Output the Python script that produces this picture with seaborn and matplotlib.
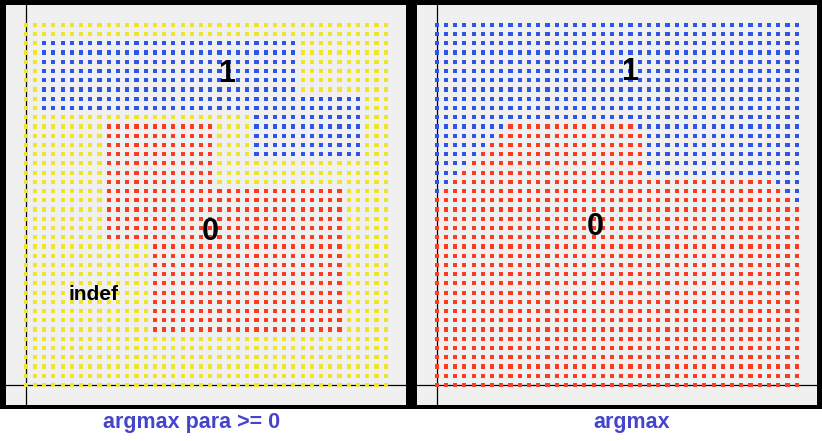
import pandas as pd
import seaborn as sns
import matplotlib.pyplot as plt
from matplotlib.patches import Rectangle

# Grelha 40 x 40 de pontos; cada linha descrita de cima para baixo como
# (numero de linhas repetidas, [(classe, quantidade de colunas), ...])
# classes: "0", "1" e "indef"
linhas_esq = [
    (2, [("indef", 40)]),
    (6, [("indef", 2), ("1", 28), ("indef", 10)]),
    (2, [("indef", 2), ("1", 35), ("indef", 3)]),
    (1, [("indef", 25), ("1", 12), ("indef", 3)]),
    (4, [("indef", 9), ("0", 12), ("indef", 4), ("1", 12), ("indef", 3)]),
    (3, [("indef", 9), ("0", 12), ("indef", 19)]),
    (6, [("indef", 9), ("0", 26), ("indef", 5)]),
    (10, [("indef", 14), ("0", 21), ("indef", 5)]),
    (6, [("indef", 40)]),
]

linhas_dir = [
    (11, [("1", 40)]),
    (1, [("1", 8), ("0", 14), ("1", 18)]),
    (1, [("1", 7), ("0", 16), ("1", 17)]),
    (1, [("1", 6), ("0", 17), ("1", 17)]),
    (1, [("1", 5), ("0", 18), ("1", 17)]),
    (1, [("1", 4), ("0", 19), ("1", 17)]),
    (1, [("1", 3), ("0", 20), ("1", 17)]),
    (1, [("1", 2), ("0", 35), ("1", 3)]),
    (1, [("1", 1), ("0", 37), ("1", 2)]),
    (1, [("0", 39), ("1", 1)]),
    (20, [("0", 40)]),
]

titulos = ["argmax para >= 0", "argmax"]

# rotulos das regioes: (texto, x, y, tamanho)
rotulos_esq = [("1", 21.8, 32.8, 22), ("0", 20.0, 15.7, 22), ("indef", 7.3, 9.2, 15)]
rotulos_dir = [("1", 20.9, 33.0, 22), ("0", 17.2, 16.2, 22)]

cores = {"0": "#ff3a22", "1": "#2f55e8", "indef": "#efe62c"}


def monta_df(linhas):
    registros = []
    linha = 0
    for repete, trechos in linhas:
        for _ in range(repete):
            col = 0
            for classe, qtd in trechos:
                for _ in range(qtd):
                    registros.append({"x": col, "y": 39 - linha, "classe": classe})
                    col += 1
            linha += 1
    return pd.DataFrame(registros)


df_esq = monta_df(linhas_esq)
df_dir = monta_df(linhas_dir)

plt.rcParams['font.family'] = ['Liberation Sans', 'DejaVu Sans']

fig = plt.figure(figsize=(8.22, 4.41), dpi=100, facecolor='white')
# moldura preta atras dos paineis
fig.patches.append(Rectangle((0, 32 / 441), 1, 409 / 441, transform=fig.transFigure,
                             facecolor='black', edgecolor='none', zorder=-10))

W, H = 822, 441
ax_esq = fig.add_axes([6 / W, 36 / H, 400 / W, 400 / H])
ax_dir = fig.add_axes([417 / W, 36 / H, 400 / W, 400 / H])

for ax, df, rotulos in [(ax_esq, df_esq, rotulos_esq), (ax_dir, df_dir, rotulos_dir)]:
    ax.set_facecolor('#f0f0f0')
    ax.axvline(0, color='black', lw=0.9, zorder=0.5)
    ax.axhline(0, color='black', lw=0.9, zorder=0.5)
    sns.scatterplot(data=df, x='x', y='y', hue='classe', palette=cores, marker='s',
                    s=9, linewidth=0, legend=False, ax=ax, zorder=2,
                    antialiased=False)
    for texto, x, y, tam in rotulos:
        ax.text(x, y, texto, fontsize=tam, fontweight='bold', color='black',
                ha='center', va='baseline', zorder=3)
    ax.set_xlim(-2.13, 41.2)
    ax.set_ylim(-2.17, 41.15)
    ax.set_xticks([])
    ax.set_yticks([])
    ax.set_xlabel('')
    ax.set_ylabel('')
    for sp in ax.spines.values():
        sp.set_visible(False)

fig.text(191.5 / W, 13 / H, titulos[0], fontsize=15.5, fontweight='bold',
         color='#4545cc', ha='center', va='baseline')
fig.text(632 / W, 13 / H, titulos[1], fontsize=15.5, fontweight='bold',
         color='#4545cc', ha='center', va='baseline')

fig.savefig('out.png', dpi=100, facecolor='white')
